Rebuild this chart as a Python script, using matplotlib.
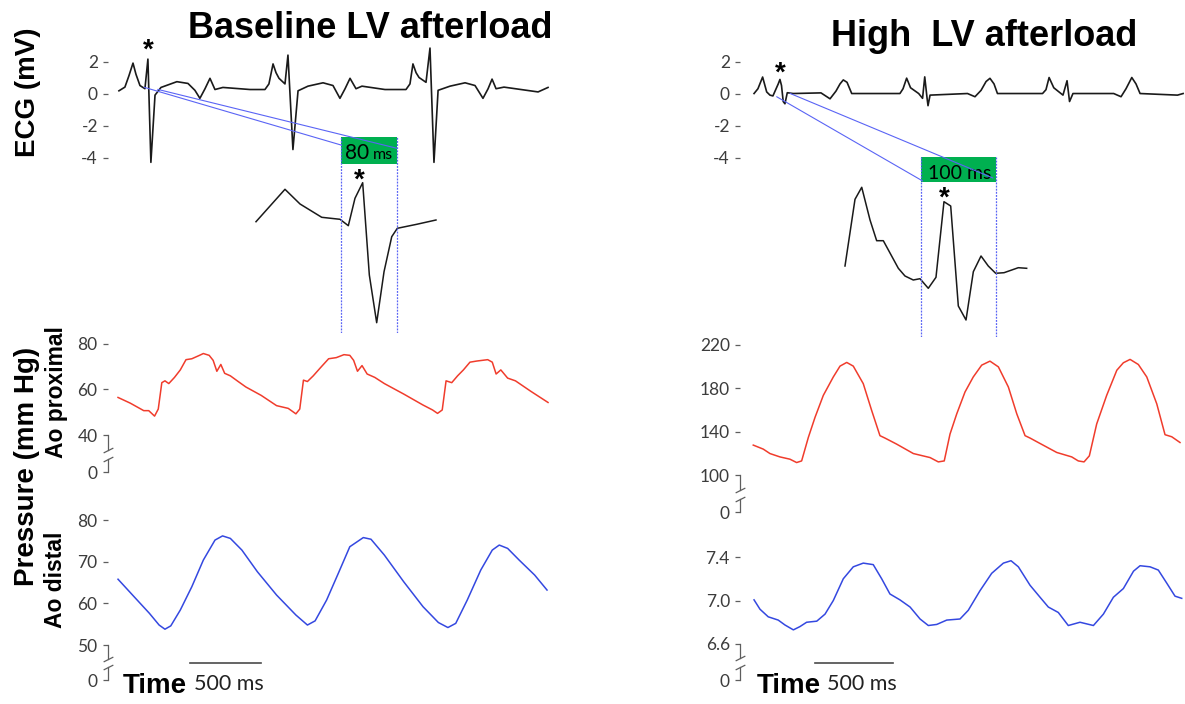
import matplotlib
matplotlib.use('Agg')
import matplotlib.pyplot as plt
import matplotlib.transforms as mtransforms
from matplotlib.patches import Rectangle, ConnectionPatch
import numpy as np

# ── Theme ─────────────────────────────────────────────────────────────────
W, H = 1185, 704
BOLD = 'Liberation Sans'
TICK_GRAY = '#5e5e5e'
LABEL_GRAY = '#3c3c3c'
ECG_BLACK = '#1a1a1a'
RED = '#f03c2c'
BLUE = '#3448e0'
GUIDE = '#5a64f5'
GREEN = '#00b050'

plt.rcParams['font.family'] = ['Lato', 'DejaVu Sans']
plt.rcParams['axes.unicode_minus'] = False
plt.rcParams['lines.solid_joinstyle'] = 'round'

# ── Data: ECG (time in s, mV) ─────────────────────────────────────────────
ecg_base_t = [0.007, 0.049, 0.077, 0.106, 0.127, 0.155, 0.190, 0.211, 0.232, 0.261,
              0.303, 0.415, 0.493, 0.542, 0.577, 0.613, 0.648, 0.683, 0.739, 0.930,
              1.035, 1.063, 1.092, 1.113, 1.134, 1.176, 1.197, 1.232, 1.268, 1.338,
              1.444, 1.514, 1.563, 1.599, 1.634, 1.676, 1.718, 1.880, 2.028, 2.056,
              2.077, 2.099, 2.120, 2.169, 2.197, 2.225, 2.254, 2.338, 2.444, 2.514,
              2.570, 2.606, 2.634, 2.662, 2.718, 2.958, 3.028]
ecg_base_mv = [0.17, 0.4, 1.1, 1.9, 1.2, 0.5, 0.3, 2.15, -4.3, -0.1,
               0.38, 0.74, 0.63, 0.2, -0.3, 0.3, 0.95, 0.25, 0.38, 0.25,
               0.25, 0.6, 1.85, 1.3, 0.95, 0.6, 2.4, -3.5, 0.17, 0.46,
               0.67, 0.5, -0.3, 0.3, 0.95, 0.3, 0.46, 0.25, 0.25, 0.6,
               1.85, 1.3, 1.0, 0.7, 2.84, -4.3, 0.2, 0.46, 0.67, 0.5,
               -0.3, 0.3, 0.9, 0.3, 0.4, 0.1, 0.38]

ecg_high_t = [-0.006, 0.019, 0.049, 0.075, 0.096, 0.115, 0.149, 0.160, 0.170, 0.181,
              0.192, 0.207, 0.245, 0.423, 0.481, 0.519, 0.545, 0.566, 0.590, 0.620,
              0.929, 0.949, 0.972, 0.997, 1.049, 1.074, 1.088, 1.103, 1.109, 1.122,
              1.362, 1.410, 1.449, 1.481, 1.506, 1.532, 1.554, 1.843, 1.865, 1.885,
              1.915, 1.974, 2.000, 2.016, 2.038, 2.299, 2.346, 2.378, 2.415, 2.442,
              2.468, 2.708, 2.744]
ecg_high_mv = [0.0, 0.3, 1.03, 0.1, -0.1, -0.15, 0.6, 0.88, 0.5, -0.5,
               -0.64, 0.05, 0.0, 0.04, -0.33, 0.15, 0.6, 0.85, 0.7, 0.0,
               0.0, 0.3, 0.96, 0.36, 0.0, -0.3, 1.04, -0.3, -0.76, -0.1,
               0.0, -0.2, 0.2, 0.75, 0.95, 0.6, 0.0, 0.0, 0.24, 1.0,
               0.36, -0.1, 0.8, -0.5, 0.0, 0.0, -0.2, 0.3, 1.0, 0.6,
               0.0, -0.1, 0.0]

# zoomed QRS (time in ms, arbitrary amplitude)
zoom_base_t = [0, 41.4, 62.9, 93.9, 120, 131.9, 141.4, 152.4, 161.9, 172.4,
               182.9, 193.9, 201.9, 229.6, 257.1]
zoom_base_v = [-0.085, 1.535, 0.8, 0.135, 0.035, -0.285, 1.085, 1.865, -2.75, -5.135,
               -2.585, -0.835, -0.415, -0.215, 0.0]
zoom_high_t = [0, 13.4, 22.4, 33.5, 42.4, 51.3, 71.4, 80.3, 91.4, 100.4,
               111.5, 121.8, 132.5, 141.5, 151.7, 162, 171.8, 182.1, 191.8, 201.7,
               212.9, 232, 243.2]
zoom_high_v = [0.2, 3.535, 4.135, 2.5, 1.465, 1.465, 0.085, -0.3, -0.5, -0.435,
               -0.915, -0.365, 3.415, 3.2, -1.8, -2.5, -0.085, 0.7, 0.2, -0.165,
               -0.135, 0.115, 0.085]
qrs_base_win = [121.4, 201.4]   # 80 ms
qrs_high_win = [101.7, 201.7]   # 100 ms

# ── Data: pressures (time in s, mm Hg) ────────────────────────────────────
prox_base_t = [0.004, 0.090, 0.185, 0.220, 0.261, 0.287, 0.312, 0.334, 0.361, 0.401,
               0.442, 0.482, 0.523, 0.577, 0.604, 0.645, 0.673, 0.699, 0.727, 0.754,
               0.794, 0.849, 0.903, 1.011, 1.119, 1.201, 1.255, 1.282, 1.308, 1.336,
               1.377, 1.431, 1.485, 1.539, 1.593, 1.634, 1.661, 1.688, 1.720, 1.756,
               1.810, 1.877, 2.013, 2.148, 2.216, 2.251, 2.284, 2.311, 2.351, 2.392,
               2.433, 2.479, 2.527, 2.604, 2.636, 2.663, 2.696, 2.744, 2.799, 2.907,
               3.028]
prox_base_p = [56.5, 54.0, 50.7, 50.7, 48.3, 51.4, 63.0, 63.8, 62.6, 65.3,
               68.6, 73.1, 73.5, 75.0, 75.8, 75.0, 72.8, 68.0, 71.0, 67.1,
               66.0, 63.5, 61.1, 57.4, 52.9, 51.7, 49.3, 51.4, 64.1, 63.5,
               66.0, 69.8, 73.5, 74.0, 75.3, 75.0, 72.8, 68.0, 70.5, 66.8,
               65.3, 62.6, 58.0, 53.2, 51.0, 49.5, 51.0, 63.8, 63.0, 66.0,
               68.6, 72.0, 72.5, 73.1, 72.0, 66.8, 68.6, 65.0, 63.8, 59.2,
               54.3]

dist_base_t = [0.004, 0.117, 0.225, 0.293, 0.334, 0.375, 0.442, 0.523, 0.604, 0.686,
               0.739, 0.794, 0.875, 0.984, 1.119, 1.255, 1.336, 1.390, 1.471, 1.553,
               1.634, 1.729, 1.783, 1.877, 2.013, 2.149, 2.257, 2.324, 2.379, 2.460,
               2.555, 2.636, 2.685, 2.744, 2.825, 2.934, 3.021]
dist_base_p = [65.8, 61.6, 57.6, 54.8, 53.8, 54.6, 58.4, 64.0, 70.4, 75.2,
               76.2, 75.6, 72.8, 67.6, 62.0, 57.2, 54.8, 55.8, 60.8, 67.2,
               73.6, 75.8, 75.4, 71.6, 65.2, 59.2, 55.4, 54.2, 55.2, 60.8,
               68.0, 72.8, 74.0, 73.2, 70.4, 66.8, 63.2]

prox_high_t = [-0.011, 0.053, 0.096, 0.160, 0.224, 0.267, 0.299, 0.342, 0.385, 0.438,
               0.502, 0.545, 0.588, 0.630, 0.694, 0.748, 0.801, 0.833, 0.908, 1.015,
               1.122, 1.175, 1.213, 1.250, 1.293, 1.346, 1.399, 1.453, 1.506, 1.560,
               1.624, 1.678, 1.731, 1.763, 1.827, 1.934, 2.030, 2.072, 2.109, 2.143,
               2.190, 2.254, 2.319, 2.361, 2.404, 2.457, 2.511, 2.575, 2.628, 2.671,
               2.724]
prox_high_p = [127.6, 123.9, 119.8, 116.7, 114.6, 111.5, 113.0, 134.7, 153.3, 173.5,
               190.5, 200.5, 203.9, 200.5, 184.3, 159.5, 136.3, 134.1, 128.5, 119.8,
               116.1, 112.1, 113.0, 137.8, 156.4, 176.6, 190.5, 201.4, 205.1, 199.8,
               181.2, 156.4, 136.3, 134.1, 129.1, 120.8, 116.7, 113.0, 112.1, 117.7,
               147.1, 173.5, 196.7, 203.6, 206.7, 202.0, 190.5, 165.7, 137.2, 135.3,
               130.0]

dist_high_t = [-0.006, 0.032, 0.085, 0.149, 0.192, 0.246, 0.288, 0.331, 0.396, 0.449,
               0.502, 0.566, 0.630, 0.694, 0.758, 0.812, 0.865, 0.929, 0.994, 1.058,
               1.111, 1.165, 1.229, 1.314, 1.367, 1.442, 1.517, 1.592, 1.641, 1.688,
               1.763, 1.827, 1.880, 1.944, 2.008, 2.083, 2.169, 2.233, 2.297, 2.361,
               2.426, 2.468, 2.532, 2.585, 2.639, 2.692, 2.735]
dist_high_p = [7.006, 6.92, 6.85, 6.82, 6.775, 6.73, 6.76, 6.80, 6.81, 6.875,
               7.0, 7.2, 7.31, 7.344, 7.33, 7.20, 7.06, 7.006, 6.94, 6.83,
               6.77, 6.78, 6.82, 6.83, 6.91, 7.09, 7.25, 7.344, 7.366, 7.31,
               7.14, 7.03, 6.94, 6.89, 6.77, 6.80, 6.77, 6.875, 7.03, 7.11,
               7.27, 7.32, 7.31, 7.28, 7.16, 7.04, 7.02]

# ── Ticks ─────────────────────────────────────────────────────────────────
ecg_ticks = [-4, -2, 0, 2]
prox_base_ticks = [0, 40, 60, 80]
dist_base_ticks = [0, 50, 60, 70, 80]
prox_high_ticks = [0, 100, 140, 180, 220]
dist_high_ticks = [0, 6.6, 7.0, 7.4]
dist_high_labels = ['0', '6.6', '7.0', '7.4']

# ── Helpers ───────────────────────────────────────────────────────────────
fig = plt.figure(figsize=(W / 100, H / 100), dpi=100)


def add_ax(left, top, right, bottom):
    ax = fig.add_axes([left / W, 1 - bottom / H, (right - left) / W, (bottom - top) / H])
    ax.patch.set_visible(False)
    for s in ax.spines.values():
        s.set_visible(False)
    ax.xaxis.set_visible(False)
    ax.tick_params(axis='y', length=3.6, width=0.9, color=TICK_GRAY, pad=3.6,
                   labelsize=12.5, labelcolor=LABEL_GRAY)
    return ax


def broken_axis(ax, low, k, ylim, ticks, labels=None):
    """linear above `low`, compressed below it, with a // break mark"""
    def fwd(y):
        y = np.asarray(y, dtype=float)
        return np.where(y >= low, y, low - (low - y) * k)

    def inv(u):
        u = np.asarray(u, dtype=float)
        return np.where(u >= low, u, low - (low - u) / k)

    ax.set_yscale('function', functions=(fwd, inv))
    ax.set_ylim(*ylim)
    ax.set_yticks(ticks)
    ax.set_yticklabels(labels if labels else [f'{t:g}' for t in ticks])
    ax.minorticks_off()

    tr = mtransforms.blended_transform_factory(ax.transAxes, ax.transData)
    u0, u1 = float(fwd(0)), float(fwd(low))
    g_lo = float(inv(u0 + 0.36 * (u1 - u0)))
    g_hi = float(inv(u0 + 0.60 * (u1 - u0)))
    kw = dict(color=TICK_GRAY, lw=0.9, transform=tr, clip_on=False)
    ax.plot([0, 0], [low, g_hi], **kw)
    ax.plot([0, 0], [g_lo, 0], **kw)
    ax.plot([0, 0], [g_hi, g_lo], ls='none', marker=[(-1, -0.5), (1, 0.5)], ms=7,
            mew=0.9, mec=TICK_GRAY, transform=tr, clip_on=False)


def zoom_panel(ax, t, v, win, xlim, ylim, box_frac):
    ax.plot(t, v, color=ECG_BLACK, lw=1.1)
    ax.set_xlim(*xlim)
    ax.set_ylim(*ylim)
    ax.yaxis.set_visible(False)
    for x in win:
        ax.axvline(x, color=GUIDE, lw=0.9, ls=(0, (1.5, 1.0)))
    tr = mtransforms.blended_transform_factory(ax.transData, ax.transAxes)
    ax.add_patch(Rectangle((win[0], box_frac), win[1] - win[0], 1 - box_frac,
                           transform=tr, facecolor=GREEN, edgecolor='none', zorder=0))
    return tr


# ── ECG strips ────────────────────────────────────────────────────────────
XL_BASE = (-0.07, 3.056)
XL_HIGH = (-0.096, 2.756)

ax_ecg_b = add_ax(108, 41.5, 552, 167)
ax_ecg_b.plot(ecg_base_t, ecg_base_mv, color=ECG_BLACK, lw=1.2)
ax_ecg_b.set_xlim(*XL_BASE)
ax_ecg_b.set_ylim(-4.59, 3.25)
ax_ecg_b.set_yticks(ecg_ticks)

ax_ecg_h = add_ax(740, 41.5, 1185, 167)
ax_ecg_h.plot(ecg_high_t, ecg_high_mv, color=ECG_BLACK, lw=1.2)
ax_ecg_h.set_xlim(*XL_HIGH)
ax_ecg_h.set_ylim(-4.59, 3.25)
ax_ecg_h.set_yticks(ecg_ticks)

# ── Zoomed QRS complexes ──────────────────────────────────────────────────
ax_zb = add_ax(250, 136.7, 440, 333)
tr_zb = zoom_panel(ax_zb, zoom_base_t, zoom_base_v, qrs_base_win,
                   (-8.57, 262.86), (-5.65, 4.165), 0.861)
ax_zb.text(144, 0.885, '80', transform=tr_zb, ha='center', va='baseline', fontsize=15)
ax_zb.text(181, 0.885, 'ms', transform=tr_zb, ha='center', va='baseline', fontsize=11.5)

ax_zh = add_ax(840, 156.7, 1030, 337)
tr_zh = zoom_panel(ax_zh, zoom_high_t, zoom_high_v, qrs_high_win,
                   (-6.69, 247.66), (-3.35, 5.665), 0.858)
ax_zh.text(154, 0.875, '100 ms', transform=tr_zh, ha='center', va='baseline', fontsize=14)

# asterisks on the marked R waves
star = dict(ha='center', va='baseline', fontsize=20, fontweight='bold', family=BOLD,
            textcoords='offset pixels')
i = int(np.argmax(ecg_base_mv[:10]))
ax_ecg_b.annotate('*', (ecg_base_t[i], ecg_base_mv[i]), xytext=(0, 1), **star)
i = int(np.argmax(zoom_base_v))
ax_zb.annotate('*', (zoom_base_t[i], zoom_base_v[i]), xytext=(-3, -5), **star)
ax_ecg_h.annotate('*', (ecg_high_t[7], ecg_high_mv[7]), xytext=(0, -1), **star)
ax_zh.annotate('*', (zoom_high_t[12], zoom_high_v[12]), xytext=(0, -4), **star)

# guide lines from the strip to the zoom
guide = dict(color=GUIDE, lw=0.8)
fig.add_artist(ConnectionPatch((0.1845, 0.39), (qrs_base_win[0], 3.75),
                               ax_ecg_b.transData, ax_zb.transData, **guide))
fig.add_artist(ConnectionPatch((0.28, 0.26), (qrs_base_win[1], 3.585),
                               ax_ecg_b.transData, ax_zb.transData, **guide))
fig.add_artist(ConnectionPatch((0.139, -0.2), (104, 4.45),
                               ax_ecg_h.transData, ax_zh.transData, **guide))
fig.add_artist(ConnectionPatch((0.224, 0.01), (198, 4.6),
                               ax_ecg_h.transData, ax_zh.transData, **guide))

# ── Pressure traces ───────────────────────────────────────────────────────
ax_pb = add_ax(107.5, 336, 552, 476)
ax_pb.plot(prox_base_t, prox_base_p, color=RED, lw=1.1)
ax_pb.set_xlim(*XL_BASE)
broken_axis(ax_pb, 40, 0.4066, (-4.3, 83.5), prox_base_ticks)

ax_db = add_ax(107.5, 513, 552, 684)
ax_db.plot(dist_base_t, dist_base_p, color=BLUE, lw=1.1)
ax_db.set_xlim(*XL_BASE)
broken_axis(ax_db, 50, 0.168, (-5.7, 81.7), dist_base_ticks)

ax_ph = add_ax(740, 336, 1185, 516)
ax_ph.plot(prox_high_t, prox_high_p, color=RED, lw=1.1)
ax_ph.set_xlim(*XL_HIGH)
broken_axis(ax_ph, 100, 0.3415, (-10.8, 228.3), prox_high_ticks)

ax_dh = add_ax(740, 513, 1185, 684)
ax_dh.plot(dist_high_t, dist_high_p, color=BLUE, lw=1.1)
ax_dh.set_xlim(*XL_HIGH)
broken_axis(ax_dh, 6.6, 0.0502, (-0.73, 7.805), dist_high_ticks, dist_high_labels)

# 500 ms scale bars
for ax, t0 in ((ax_db, 0.507), (ax_dh, 0.385)):
    tr = mtransforms.blended_transform_factory(ax.transData, ax.transAxes)
    ax.plot([t0, t0 + 0.5], [0.121, 0.121], color='#4a4a4a', lw=1.2,
            transform=tr, clip_on=False)

# ── Text ──────────────────────────────────────────────────────────────────
def ftext(x, y, s, **kw):
    fig.text(x / W, 1 - y / H, s, **kw)


bold = dict(family=BOLD, fontweight='bold', color='black')
ftext(370, 38, 'Baseline LV afterload', ha='center', va='baseline', fontsize=26, **bold)
ftext(984, 46, 'High  LV afterload', ha='center', va='baseline', fontsize=26, **bold)
ftext(28, 92, 'ECG (mV)', ha='center', va='center', rotation=90, fontsize=20, **bold)
ftext(27, 466, 'Pressure (mm Hg)', ha='center', va='center', rotation=90, fontsize=20, **bold)
ftext(57, 392, 'Ao proximal', ha='center', va='center', rotation=90, fontsize=16.5, **bold)
ftext(56, 580, 'Ao distal', ha='center', va='center', rotation=90, fontsize=16.5, **bold)
ftext(155, 693, 'Time', ha='center', va='baseline', fontsize=20, **bold)
ftext(789, 693, 'Time', ha='center', va='baseline', fontsize=20, **bold)
ftext(229, 690, '500 ms', ha='center', va='baseline', fontsize=15.5, color='#222222')
ftext(862, 690, '500 ms', ha='center', va='baseline', fontsize=15.5, color='#222222')

fig.savefig('out.png', dpi=100, facecolor='white')
